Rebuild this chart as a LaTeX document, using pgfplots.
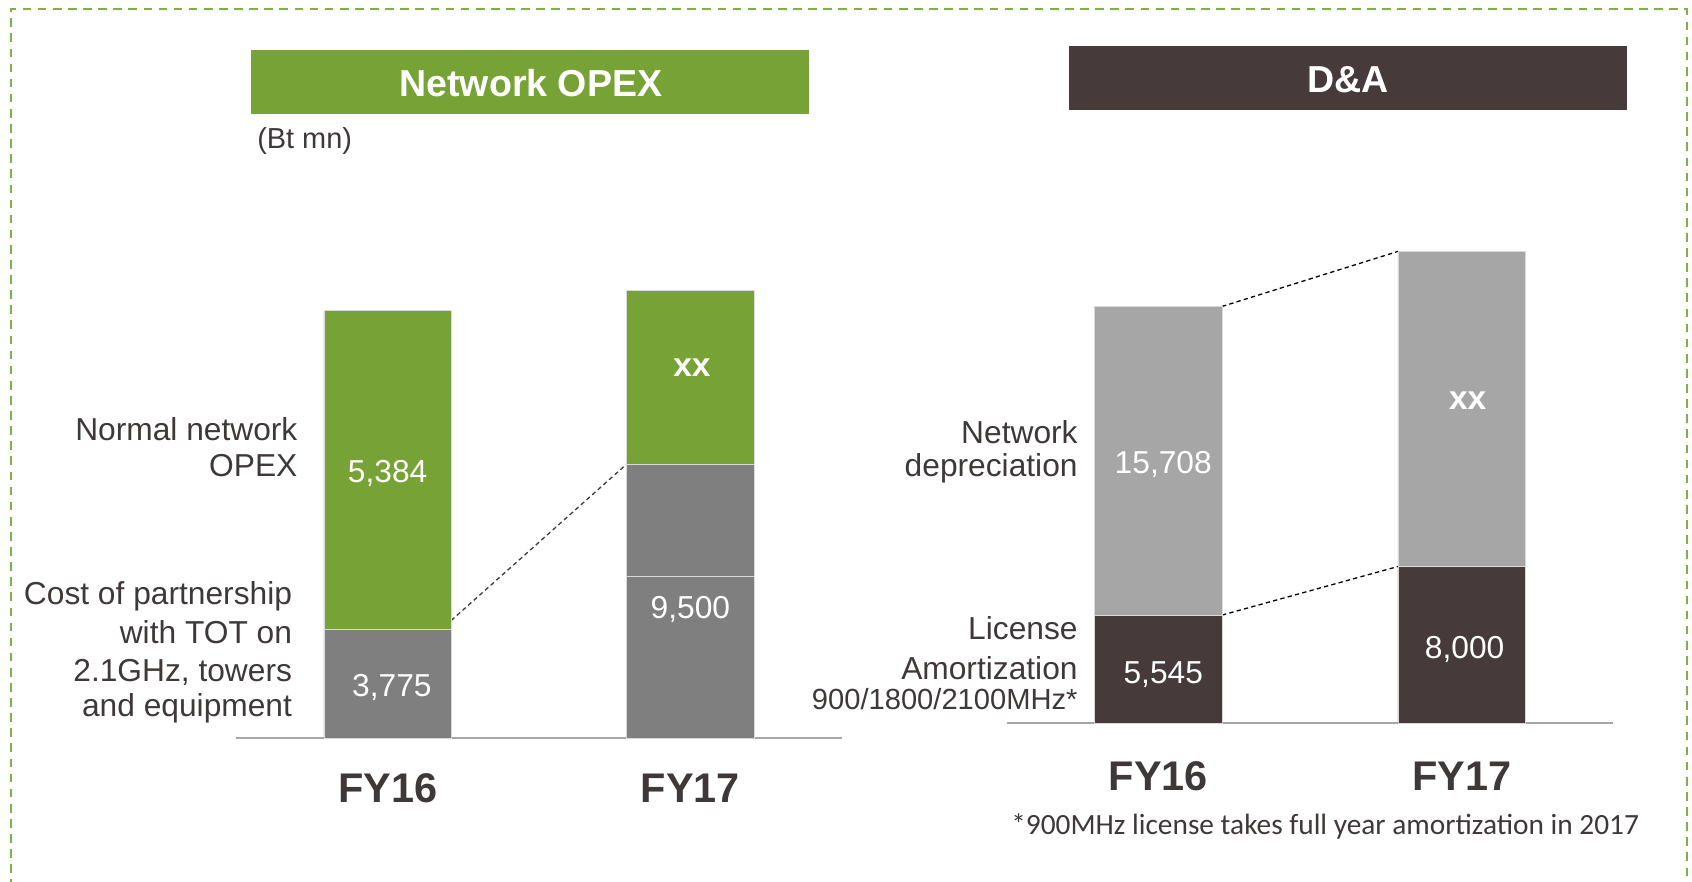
\documentclass[border=0pt]{standalone}
\usepackage{pgfplots}
\pgfplotsset{compat=1.18}
\usepackage{fontspec}
\setmainfont{Liberation Sans}
\newfontfamily\carlito{Carlito}

\definecolor{opexgreen}{HTML}{77A235}
\definecolor{midgray}{HTML}{7F7F7F}
\definecolor{lgray}{HTML}{A6A6A6}
\definecolor{dabrown}{HTML}{463A3A}
\definecolor{txt}{HTML}{3F3838}
\definecolor{border}{HTML}{7DB046}

\tikzset{
  val/.style={text=white, yshift=-1.4pt, font=\fontsize{14.7}{17}\selectfont},
  valb/.style={text=white, yshift=-1pt, font=\fontsize{15.5}{17}\selectfont\bfseries},
  lab/.style={text=txt, anchor=base east, inner sep=0pt, font=\fontsize{14.7}{17}\selectfont},
  link/.style={line width=0.6pt, dash pattern=on 2pt off 1.5pt},
}

\pgfplotsset{
  twobars/.style={
    width=280.5pt, height=225pt, scale only axis,
    xmin=-0.5, xmax=1.5, ymin=0, ymax=450,
    ybar stacked, bar width=59pt,
    hide y axis, axis x line*=bottom,
    x axis line style={-, draw=lgray, line width=1pt},
    xtick={0,1}, xticklabels={FY16,FY17},
    xtick style={draw=none},
    xticklabel style={font=\fontsize{19.2}{22}\selectfont\bfseries, text=txt, yshift=-13pt},
    clip=false,
  },
  seg/.style={draw=white!85!black, line width=0.4pt},
}

\begin{document}
\begin{tikzpicture}
\useasboundingbox (0,0) rectangle (784pt,408.5pt);
\begin{scope}
\clip (0,0) rectangle (784pt,408.5pt);
\draw[border, line width=1pt, dash pattern=on 4pt off 3pt] (5pt,-10pt) -- (5pt,404.5pt) -- (781.5pt,404.5pt) -- (781.5pt,-10pt);
\end{scope}

% title boxes
\fill[opexgreen] (116.5pt,355.5pt) rectangle (375pt,385.5pt);
\node[text=white, font=\fontsize{17.4}{20}\selectfont\bfseries] at (246pt,370pt) {Network OPEX};
\fill[dabrown] (495.5pt,357.5pt) rectangle (754pt,387pt);
\node[text=white, font=\fontsize{17.4}{20}\selectfont\bfseries] at (624.5pt,371.5pt) {D\&A};
\node[text=txt, anchor=west, inner sep=0pt, font=\fontsize{13.4}{16}\selectfont] at (119pt,343pt) {(Bt mn)};

% Network OPEX
\begin{axis}[twobars, at={(109.5pt,66.5pt)}, anchor=south west]
\addplot[seg, fill=midgray] coordinates {(0,101) (1,150)};
\addplot[seg, fill=midgray] coordinates {(0,0) (1,104)};
\addplot[seg, fill=opexgreen] coordinates {(0,295) (1,161)};
\draw[link, txt] (axis cs:0.21,109) -- (axis cs:0.79,254);
\coordinate (o1) at (axis cs:0,248);
\coordinate (o2) at (axis cs:0.014,50);
\coordinate (o3) at (axis cs:1,122);
\coordinate (o4) at (axis cs:1.005,345);
\end{axis}
\node[val] at (o1) {5,384};
\node[val] at (o2) {3,775};
\node[val] at (o3) {9,500};
\node[valb] at (o4) {xx};

% D&A
\begin{axis}[twobars, width=281pt, at={(466.5pt,73.5pt)}, anchor=south west, xticklabel style={yshift=-1.5pt}]
\addplot[seg, fill=dabrown] coordinates {(0,100) (1,145)};
\addplot[seg, fill=lgray] coordinates {(0,286) (1,292)};
\draw[link, black] (axis cs:0.21,386) -- (axis cs:0.79,437);
\draw[link, black] (axis cs:0.21,100) -- (axis cs:0.79,145);
\coordinate (d1) at (axis cs:0.016,242);
\coordinate (d2) at (axis cs:0.016,48);
\coordinate (d3) at (axis cs:1.01,71);
\coordinate (d4) at (axis cs:1.02,301);
\end{axis}
\node[val] at (d1) {15,708};
\node[val] at (d2) {5,545};
\node[val] at (d3) {8,000};
\node[valb] at (d4) {xx};

% side labels
\node[lab] at (138pt,204.2pt) {Normal network};
\node[lab] at (138pt,187.7pt) {OPEX};
\node[lab] at (135.5pt,128.2pt) {Cost of partnership};
\node[lab] at (135.5pt,110.2pt) {with TOT on};
\node[lab] at (135.5pt,92.7pt) {2.1GHz, towers};
\node[lab] at (135.5pt,76.7pt) {and equipment};
\node[lab] at (499.5pt,203.2pt) {Network};
\node[lab] at (499.5pt,187.7pt) {depreciation};
\node[lab] at (499.5pt,112.2pt) {License};
\node[lab] at (499.5pt,93.7pt) {Amortization};
\node[lab, font=\fontsize{13.5}{16}\selectfont] at (499.5pt,79.7pt) {900/1800/2100MHz*};

\node[text=txt, font=\carlito\fontsize{13.6}{16}\selectfont] at (614pt,25.5pt) {*900MHz license takes full year amortization in 2017};
\end{tikzpicture}
\end{document}
